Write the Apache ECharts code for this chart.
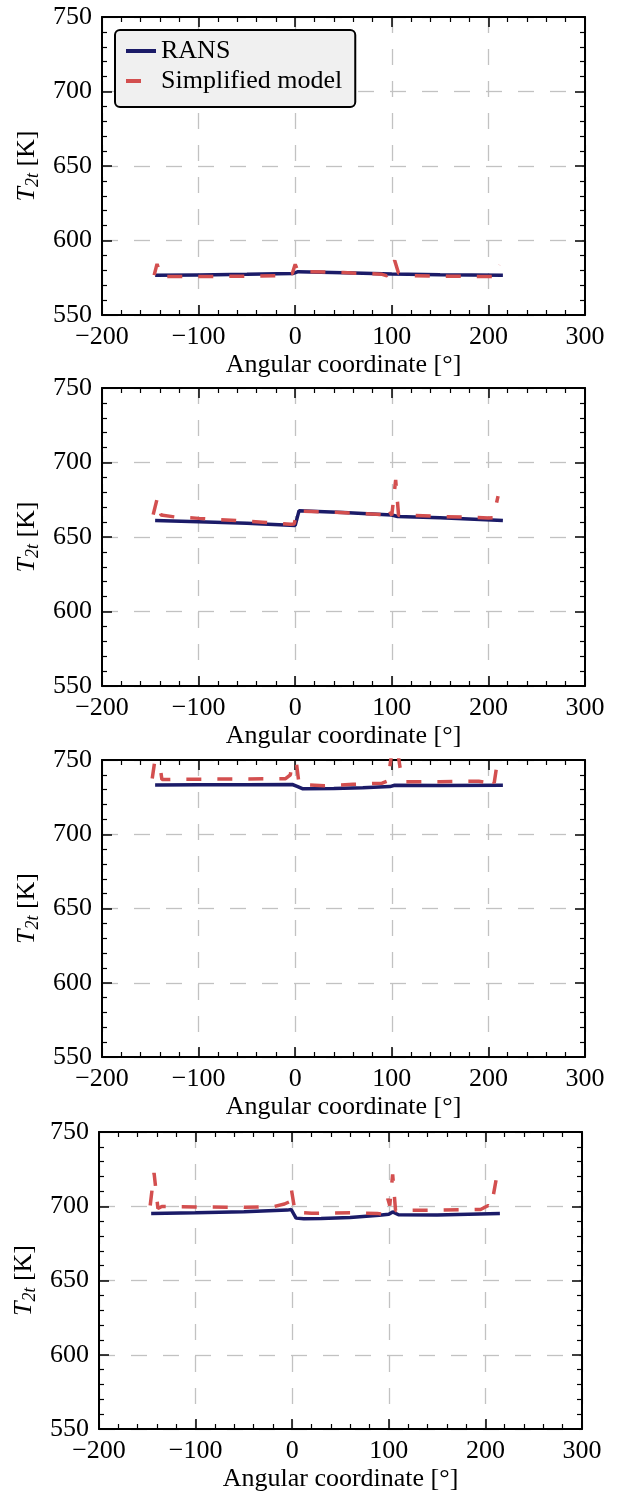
<!DOCTYPE html>
<html>
<head>
<meta charset="utf-8">
<script src="https://cdn.jsdelivr.net/npm/echarts@6/dist/echarts.min.js"></script>
<style>
html,body{margin:0;padding:0;background:#fff;}
#chart{width:623px;height:1495px;}
</style>
</head>
<body>
<div id="chart"></div>
<script>
// ---------- data ----------
const xTickLabels = [-200, -100, 0, 100, 200, 300];
const yTickLabels = [550, 600, 650, 700, 750];
const seriesNames = ['RANS', 'Simplified model'];

// Panel 1
const p1RansX = [-145, -100, -50, -2, 3, 50, 100, 150, 215];
const p1RansY = [576.6, 576.9, 577.3, 577.9, 579.1, 578.4, 577.6, 577.0, 576.7];
const p1SimpX = [-146, -143, -139, -120, -60, -10, -3, 0, 3, 50, 90, 95, 98, 103, 107, 120, 200, 208, 212];
const p1SimpY = [576.8, 584.3, 575.9, 575.8, 576.0, 576.5, 577.8, 584.0, 579.2, 578.5, 577.3, 576.3, 579.0, 586.6, 578.0, 576.3, 575.8, 576.0, 583.5];

// Panel 2
const p2RansX = [-145, -100, -50, 0, 2, 4, 50, 100, 106, 150, 215];
const p2RansY = [661.0, 660.2, 659.2, 657.8, 658.2, 667.7, 666.4, 664.8, 663.8, 663.0, 661.0];
const p2SimpX = [-147, -143, -139, -125, -100, -60, -30, -5, -1, 2, 30, 60, 90, 94, 96, 100, 104, 107, 112, 116, 150, 200, 205, 210];
const p2SimpY = [665.0, 675.5, 664.8, 663.5, 662.5, 661.0, 659.8, 658.5, 658.8, 667.4, 666.9, 666.0, 665.0, 665.2, 669.5, 664.5, 688.3, 664.6, 663.8, 664.6, 663.8, 662.8, 663.0, 677.5];

// Panel 3
const p3RansX = [-145, -100, -50, -3, 2, 8, 40, 70, 98, 103, 150, 215];
const p3RansY = [733.2, 733.3, 733.4, 733.5, 732.3, 730.6, 730.8, 731.3, 732.1, 733.0, 732.8, 733.0];
const p3SimpX = [-148, -143, -138, -120, -60, -10, -5, -1, 4, 30, 60, 90, 96, 101, 106, 109, 114, 150, 190, 197, 201, 206, 210];
const p3SimpY = [737.5, 760, 736.8, 737.0, 737.2, 737.4, 740, 760, 733.5, 732.7, 733.6, 734.4, 736.0, 760, 756, 743, 735.3, 735.4, 735.7, 735.0, 739.0, 734.5, 752];

// Panel 4
const p4RansX = [-146, -100, -50, -5, -1, 4, 12, 30, 60, 90, 100, 104, 110, 150, 215];
const p4RansY = [695.1, 695.6, 696.3, 697.4, 697.8, 692.0, 691.6, 691.8, 692.5, 694.0, 694.6, 696.2, 694.3, 694.1, 695.2];
const p4SimpX = [-147, -143, -139, -135, -100, -50, -20, -8, -3, -1, 3, 20, 60, 88, 92, 96, 99, 101, 104, 107, 112, 150, 195, 203, 206, 211];
const p4SimpY = [700.5, 722.5, 698.5, 699.8, 699.5, 699.3, 699.6, 701.5, 703.0, 712.0, 696.0, 695.3, 695.6, 695.2, 694.8, 697.5, 705.0, 700.5, 721.5, 697.0, 697.3, 697.4, 697.8, 700.5, 699.5, 717.5];

const panels = [
  {ransX: p1RansX, ransY: p1RansY, simpX: p1SimpX, simpY: p1SimpY},
  {ransX: p2RansX, ransY: p2RansY, simpX: p2SimpX, simpY: p2SimpY},
  {ransX: p3RansX, ransY: p3RansY, simpX: p3SimpX, simpY: p3SimpY},
  {ransX: p4RansX, ransY: p4RansY, simpX: p4SimpX, simpY: p4SimpY}
];

// ---------- layout ----------
const FONT = '"Liberation Serif", "DejaVu Serif", serif';
const gridBoxes = [
  {left: 102, top: 17, width: 483, height: 298},
  {left: 102, top: 388, width: 483, height: 298},
  {left: 102, top: 760, width: 483, height: 297},
  {left: 99, top: 1132, width: 483, height: 297}
];
const RANS_COLOR = '#1b1b68';
const SIMP_COLOR = '#d34f4f';

const zip = (xs, ys) => xs.map((x, i) => [x, ys[i]]);
const minus = v => String(v).replace('-', '\u2212');

const grids = [], xAxes = [], yAxes = [], series = [];
const tickCommon = {show: true, inside: true, length: 10, lineStyle: {color: '#000', width: 1.5}};
const minorCommon = {show: true, splitNumber: 5, length: 5, lineStyle: {color: '#000', width: 1.2}};
const lineCommon = {show: true, onZero: false, lineStyle: {color: '#000', width: 2}};
const splitCommon = {show: true, lineStyle: {color: '#c2c2c2', width: 1.3, type: [16, 16]}};

gridBoxes.forEach((g, i) => {
  grids.push(Object.assign({containLabel: false}, g));
  const xmin = xTickLabels[0], xmax = xTickLabels[xTickLabels.length - 1];
  const ymin = yTickLabels[0], ymax = yTickLabels[yTickLabels.length - 1];
  xAxes.push({
    type: 'value', gridIndex: i, position: 'bottom', min: xmin, max: xmax, interval: 100,
    axisLine: lineCommon, axisTick: tickCommon, minorTick: minorCommon,
    splitLine: splitCommon,
    axisLabel: {show: true, margin: 9, color: '#000', fontFamily: FONT, fontSize: 26, formatter: minus},
    name: 'Angular coordinate [°]', nameLocation: 'middle', nameGap: 37,
    nameTextStyle: {color: '#000', fontFamily: FONT, fontSize: 26}
  });
  xAxes.push({
    type: 'value', gridIndex: i, position: 'top', min: xmin, max: xmax, interval: 100,
    axisLine: lineCommon, axisTick: tickCommon, minorTick: minorCommon,
    splitLine: {show: false}, axisLabel: {show: false}
  });
  yAxes.push({
    type: 'value', gridIndex: i, position: 'left', min: ymin, max: ymax, interval: 50,
    axisLine: lineCommon, axisTick: tickCommon, minorTick: minorCommon,
    splitLine: splitCommon,
    axisLabel: {show: true, margin: 10, color: '#000', fontFamily: FONT, fontSize: 26},
    name: '{i|T}{s|2t}{n| [K]}', nameLocation: 'middle', nameGap: 60, nameRotate: 90,
    nameTextStyle: {
      color: '#000', fontFamily: FONT, fontSize: 26,
      rich: {
        i: {fontFamily: FONT, fontSize: 26, fontStyle: 'italic', color: '#000', lineHeight: 30},
        s: {fontFamily: FONT, fontSize: 18, fontStyle: 'italic', color: '#000', lineHeight: 14, verticalAlign: 'bottom'},
        n: {fontFamily: FONT, fontSize: 26, color: '#000', lineHeight: 30}
      }
    }
  });
  yAxes.push({
    type: 'value', gridIndex: i, position: 'right', min: ymin, max: ymax, interval: 50,
    axisLine: lineCommon, axisTick: tickCommon, minorTick: minorCommon,
    splitLine: {show: false}, axisLabel: {show: false}
  });
  const p = panels[i];
  series.push({
    name: seriesNames[0], type: 'line', xAxisIndex: 2 * i, yAxisIndex: 2 * i,
    data: zip(p.ransX, p.ransY), symbol: 'none', clip: true, z: 3,
    lineStyle: {color: RANS_COLOR, width: 3.5}, itemStyle: {color: RANS_COLOR}
  });
  series.push({
    name: seriesNames[1], type: 'line', xAxisIndex: 2 * i, yAxisIndex: 2 * i,
    data: zip(p.simpX, p.simpY), symbol: 'none', clip: true, z: 4,
    lineStyle: {color: SIMP_COLOR, width: 3.5, type: [15, 16], cap: 'butt'}, itemStyle: {color: SIMP_COLOR}
  });
});

const chart = echarts.init(document.getElementById('chart'), null, {renderer: 'canvas'});
chart.setOption({
  animation: false,
  backgroundColor: '#fff',
  grid: grids,
  xAxis: xAxes,
  yAxis: yAxes,
  legend: {
    show: true, orient: 'vertical', left: 115, top: 30,
    data: seriesNames,
    itemWidth: 30, itemHeight: 14, itemGap: 4,
    padding: [8, 13, 13, 9],
    itemStyle: {opacity: 0, borderWidth: 0},
    lineStyle: {width: 4},
    backgroundColor: '#f0f0f0', borderColor: '#000', borderWidth: 2, borderRadius: 5,
    textStyle: {color: '#000', fontFamily: FONT, fontSize: 26}
  },
  series: series
});
</script>
</body>
</html>
